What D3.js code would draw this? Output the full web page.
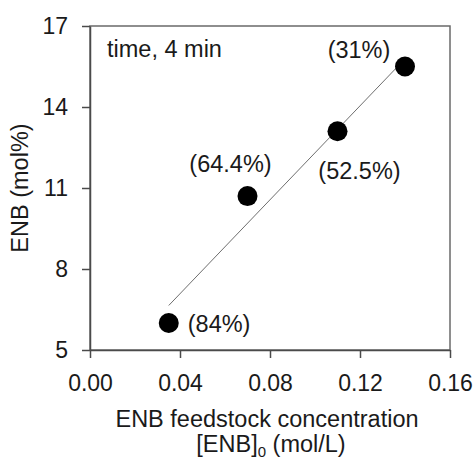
<!DOCTYPE html>
<html>
<head>
<meta charset="utf-8">
<script src="https://cdn.jsdelivr.net/npm/d3@7"></script>
<style>
  html, body { margin: 0; padding: 0; background: #fff; }
  svg { display: block; }
  text { font-family: "Liberation Sans", Arial, Helvetica, sans-serif; fill: #1a1a1a; }
</style>
</head>
<body>
<svg id="chart" width="475" height="459"></svg>
<script>
// ---- data ----
const concentrations = [0.035, 0.07, 0.11, 0.14];      // [ENB]0 (mol/L)
const enbContent = [6.0, 10.7, 13.1, 15.5];           // ENB (mol%)
const conversionLabels = ["(84%)", "(64.4%)", "(52.5%)", "(31%)"];
const xTicks = [0.00, 0.04, 0.08, 0.12, 0.16];
const yTicks = [5, 8, 11, 14, 17];
const annotation = "time, 4 min";

// ---- layout ----
const svg = d3.select("#chart");
const m = { left: 90, right: 450, top: 26, bottom: 350 };
const x = d3.scaleLinear().domain([0, 0.16]).range([m.left, m.right]);
const y = d3.scaleLinear().domain([5, 17]).range([m.bottom, m.top]);
const fontSize = 23.5;
const tickFont = 23;
const frameColor = "#4a4a4a";

// frame
svg.append("rect")
  .attr("x", m.left).attr("y", m.top)
  .attr("width", m.right - m.left).attr("height", m.bottom - m.top)
  .attr("fill", "none").attr("stroke", "#6a6a6a").attr("stroke-width", 1.5);

// axes
const xAxis = svg.append("g").attr("transform", `translate(0,${m.bottom})`)
  .call(d3.axisBottom(x).tickValues(xTicks).tickFormat(d3.format(".2f"))
    .tickSize(8).tickSizeOuter(0).tickPadding(17));
const yAxis = svg.append("g").attr("transform", `translate(${m.left},0)`)
  .call(d3.axisLeft(y).tickValues(yTicks).tickFormat(d3.format("d"))
    .tickSize(8).tickSizeOuter(0).tickPadding(14));
[xAxis, yAxis].forEach(g => {
  g.select(".domain").attr("stroke", frameColor).attr("stroke-width", 1.5);
  g.selectAll(".tick line").attr("stroke", frameColor).attr("stroke-width", 1.5);
  g.selectAll(".tick text").attr("font-size", tickFont)
    .attr("font-family", "'Liberation Sans', Arial, sans-serif").attr("fill", "#1a1a1a");
});

// regression line (least squares on the data)
const n = concentrations.length;
const mx = d3.mean(concentrations), my = d3.mean(enbContent);
let sxy = 0, sxx = 0;
for (let i = 0; i < n; i++) {
  sxy += (concentrations[i] - mx) * (enbContent[i] - my);
  sxx += (concentrations[i] - mx) ** 2;
}
const slope = sxy / sxx, intercept = my - slope * mx;
const xr = d3.extent(concentrations);
svg.append("line")
  .attr("x1", x(xr[0])).attr("y1", y(intercept + slope * xr[0]))
  .attr("x2", x(xr[1])).attr("y2", y(intercept + slope * xr[1]))
  .attr("stroke", "#6e6e6e").attr("stroke-width", 1);

// points
const pts = concentrations.map((c, i) => ({ c, v: enbContent[i], label: conversionLabels[i] }));
svg.append("g").selectAll("circle").data(pts).join("circle")
  .attr("cx", d => x(d.c)).attr("cy", d => y(d.v)).attr("r", 10)
  .attr("fill", "#000");

// point labels (placement style)
const labelPlacement = {
  "(84%)":   { dx: 19,  dy: 9,   anchor: "start" },
  "(64.4%)": { dx: -17, dy: -24, anchor: "middle" },
  "(52.5%)": { dx: 22,  dy: 48,  anchor: "middle" },
  "(31%)":   { dx: -46, dy: -9,  anchor: "middle" }
};
svg.append("g").selectAll("text").data(pts).join("text")
  .attr("x", d => x(d.c) + labelPlacement[d.label].dx)
  .attr("y", d => y(d.v) + labelPlacement[d.label].dy)
  .attr("text-anchor", d => labelPlacement[d.label].anchor)
  .attr("font-size", fontSize)
  .text(d => d.label);

// annotation
svg.append("text").attr("x", 107).attr("y", 57)
  .attr("font-size", fontSize).text(annotation);

// axis titles
const xTitle = svg.append("text").attr("text-anchor", "middle").attr("font-size", fontSize);
xTitle.append("tspan").attr("x", 267).attr("y", 427).text("ENB feedstock concentration");
const l2 = svg.append("text").attr("text-anchor", "middle").attr("font-size", fontSize)
  .attr("x", 271).attr("y", 452);
l2.append("tspan").text("[ENB]");
l2.append("tspan").attr("font-size", 15).attr("dy", 5).text("0");
l2.append("tspan").attr("dy", -5).text(" (mol/L)");

svg.append("text")
  .attr("transform", `translate(28,188) rotate(-90)`)
  .attr("text-anchor", "middle").attr("font-size", fontSize)
  .text("ENB (mol%)");
</script>
</body>
</html>
